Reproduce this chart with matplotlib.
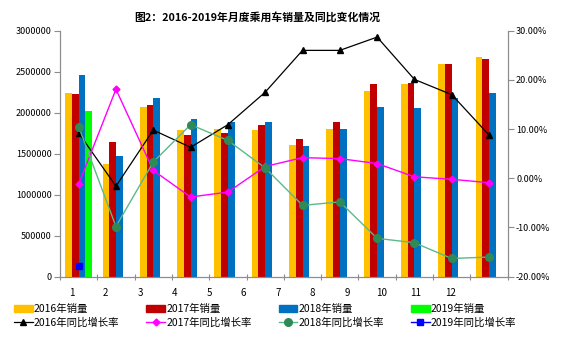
import numpy as np
import matplotlib
matplotlib.use("Agg")
import matplotlib.pyplot as plt
from matplotlib.lines import Line2D
from matplotlib.patches import Patch
from matplotlib.ticker import FuncFormatter

plt.rcParams['font.family'] = ['Noto Sans CJK SC', 'DejaVu Sans']

# 月度销量（辆）
months = ['1', '2', '3', '4', '5', '6', '7', '8', '9', '10', '11', '12']
sales_2016 = [2237000, 1378000, 2070000, 1789000, 1797000, 1790000,
              1606000, 1800000, 2268000, 2346000, 2594000, 2683000]
sales_2017 = [2228000, 1639000, 2100000, 1724000, 1756000, 1846000,
              1680000, 1883000, 2346000, 2358000, 2594000, 2655000]
sales_2018 = [2460000, 1476000, 2176000, 1920000, 1890000, 1883000,
              1594000, 1800000, 2066000, 2054000, 2176000, 2244000]
sales_2019 = [2020000]

# 同比增长率（%）
yoy_2016 = [9.2, -1.6, 9.8, 6.3, 10.9, 17.5, 26.0, 26.0, 28.7, 20.1, 17.0, 8.8]
yoy_2017 = [-1.2, 18.1, 1.6, -3.8, -2.8, 2.4, 4.2, 4.0, 3.0, 0.3, -0.2, -0.9]
yoy_2018 = [10.5, -9.8, 3.3, 10.9, 7.7, 2.1, -5.5, -4.8, -12.2, -13.1, -16.3, -16.0]
yoy_2019 = [-17.8]

c16, c17, c18, c19 = '#FFC000', '#C00000', '#0070C0', '#00FF00'
axis_gray = '#8c8c8c'

fig = plt.figure(figsize=(5.67, 3.44), dpi=100)
ax = fig.add_axes([60 / 567, 1 - 276.7 / 344, 447.7 / 567, 246 / 344])
ax2 = ax.twinx()

x = np.arange(len(months))
w = 0.18
ax.bar(x - 1.5 * w, sales_2016, w, color=c16, zorder=2)
ax.bar(x - 0.5 * w, sales_2017, w, color=c17, zorder=2)
ax.bar(x + 0.5 * w, sales_2018, w, color=c18, zorder=2)
ax.bar(x[:len(sales_2019)] + 1.5 * w, sales_2019, w, color=c19, zorder=2)

ax2.plot(x, np.array(yoy_2016) / 100, color='black', lw=0.9,
         marker='^', ms=5, zorder=3)
ax2.plot(x, np.array(yoy_2017) / 100, color='#FF00FF', lw=1.0,
         marker='D', ms=3.5, zorder=3)
ax2.plot(x, np.array(yoy_2018) / 100, color='#5DB88A', lw=1.0,
         marker='o', ms=5.5, mfc='#2E8B57', mec='#2E8B57', zorder=3)
ax2.plot(x[:len(yoy_2019)], np.array(yoy_2019) / 100, color='#0000FF',
         lw=1.0, marker='s', ms=5, ls='none', zorder=3)

ax.set_xlim(-0.5, 11.5)
ax.set_ylim(0, 3000000)
ax.set_yticks(np.arange(0, 3000001, 500000))
ax.yaxis.set_major_formatter(FuncFormatter(lambda v, p: f'{int(v)}'))
ax2.set_ylim(-0.2, 0.3)
ax2.set_yticks(np.arange(-0.2, 0.31, 0.1))
ax2.yaxis.set_major_formatter(FuncFormatter(lambda v, p: f'{v * 100:.2f}%'))

# 刻度线在类别边界，标签单独放置
ax.set_xticks(np.arange(-0.5, 12, 1))
ax.set_xticklabels([])
label_pos = -0.195 + 0.923 * np.arange(len(months))
ax.set_xticks(label_pos, minor=True)
ax.set_xticklabels(months, minor=True)
ax.tick_params(axis='x', which='minor', length=0, pad=8, labelsize=7)
ax.tick_params(axis='x', which='major', length=4, direction='inout',
               color=axis_gray)
ax.tick_params(axis='y', length=4, color=axis_gray, labelsize=6.5, pad=2)
ax2.tick_params(axis='y', length=4, color=axis_gray, labelsize=6.5, pad=2)

for a in (ax, ax2):
    a.spines['top'].set_visible(False)
    for s in ('left', 'right', 'bottom'):
        a.spines[s].set_color(axis_gray)
        a.spines[s].set_linewidth(0.8)

fig.text(257.5 / 567, 1 - 17 / 344, '图2：2016-2019年月度乘用车销量及同比变化情况',
         ha='center', va='center', fontsize=7.8, fontweight='bold')

handles = [
    Patch(color=c16), Line2D([], [], color='black', lw=0.9, marker='^', ms=5),
    Patch(color=c17), Line2D([], [], color='#FF00FF', lw=1.0, marker='D', ms=3.5),
    Patch(color=c18), Line2D([], [], color='#5DB88A', lw=1.0, marker='o', ms=5.5,
                             mfc='#2E8B57', mec='#2E8B57'),
    Patch(color=c19), Line2D([], [], color='#0000FF', lw=1.0, marker='s', ms=5),
]
labels = ['2016年销量', '2016年同比增长率', '2017年销量', '2017年同比增长率',
          '2018年销量', '2018年同比增长率', '2019年销量', '2019年同比增长率']
fig.legend(handles, labels, ncol=4, loc='upper left',
           bbox_to_anchor=(14 / 567, 1 - 304 / 344), frameon=False,
           fontsize=7.5, handlelength=1.8, handleheight=0.6,
           handletextpad=0.1, columnspacing=2.6, labelspacing=0.3,
           borderpad=0, borderaxespad=0)

fig.savefig('out.png', dpi=100)
